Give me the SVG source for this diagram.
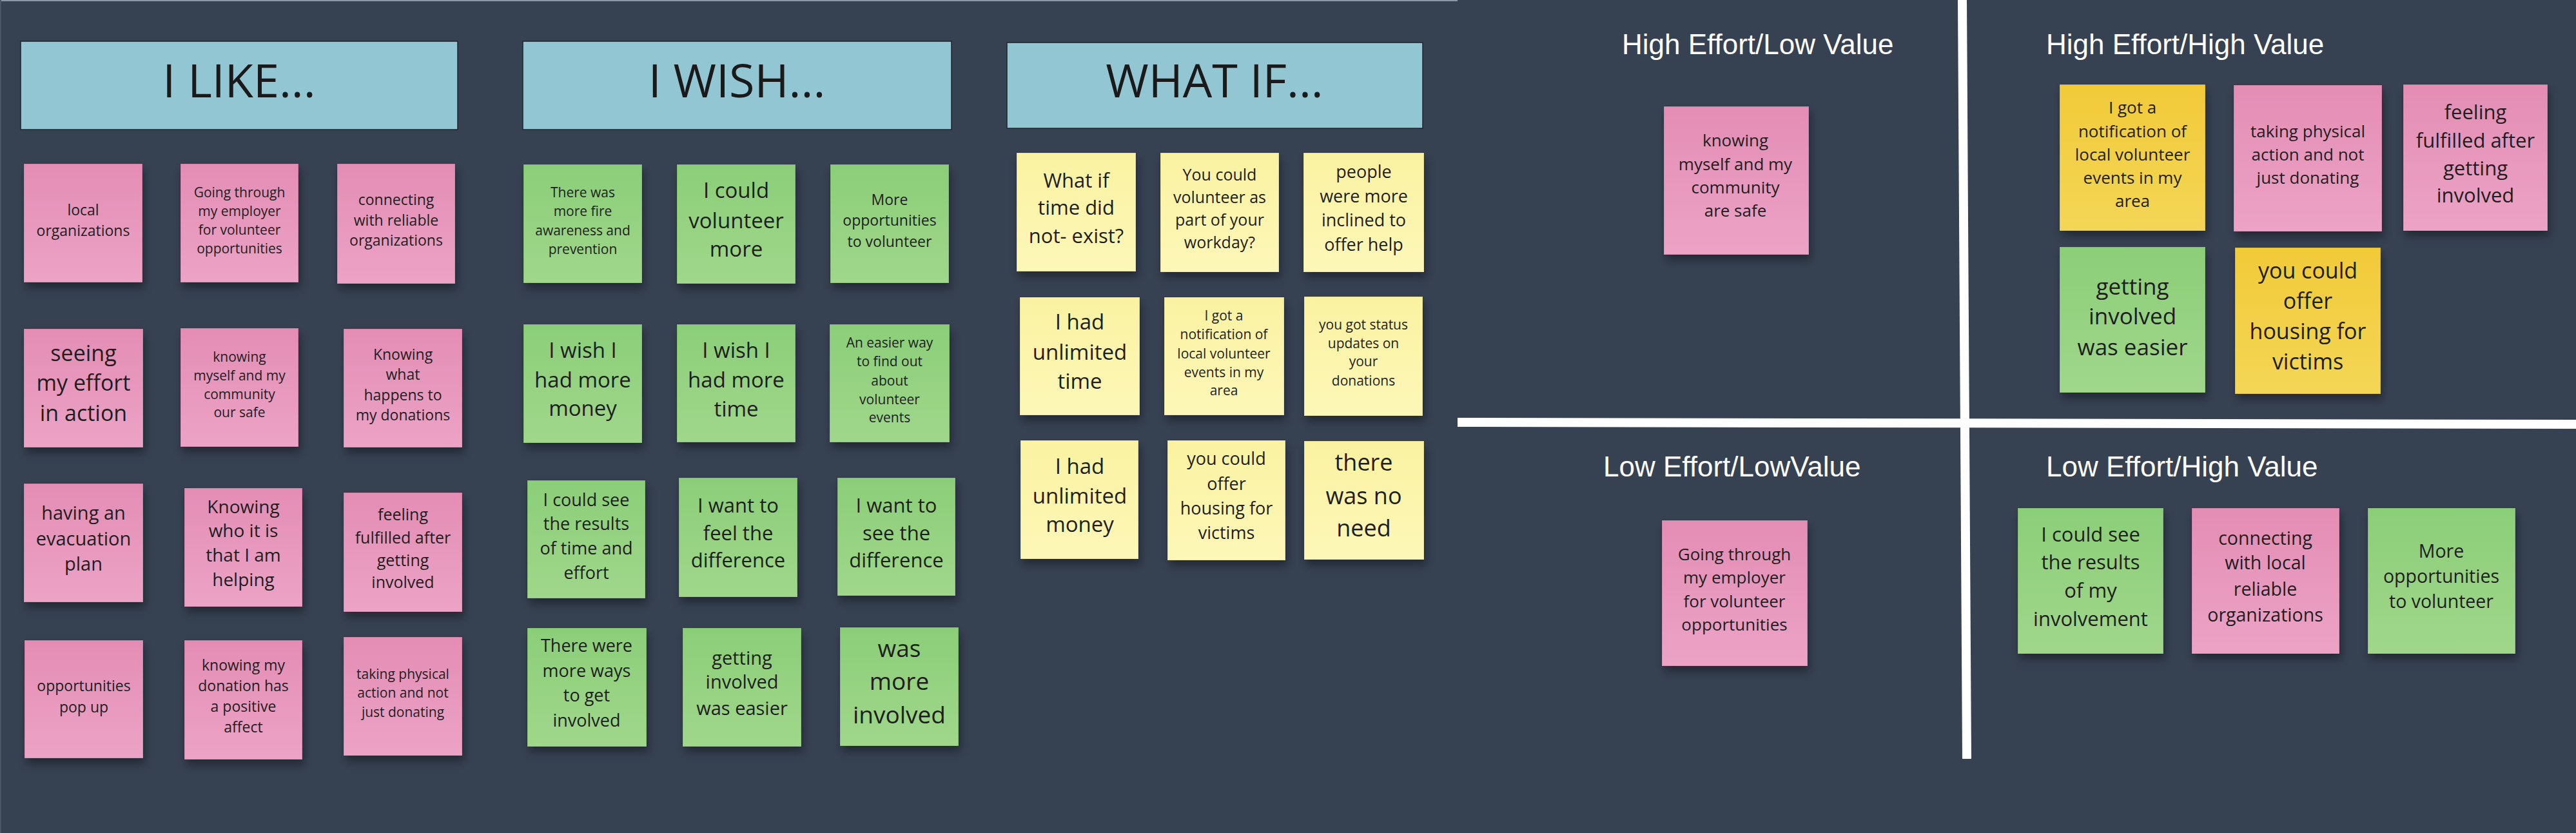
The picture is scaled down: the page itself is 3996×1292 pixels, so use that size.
<svg xmlns="http://www.w3.org/2000/svg" width="3996" height="1292" viewBox="0 0 3996 1292">
<defs>
<linearGradient id="gPink" x1="0" y1="0" x2="0" y2="1"><stop offset="0" stop-color="#e48db4"/><stop offset="1" stop-color="#eca3c5"/></linearGradient>
<linearGradient id="gGreen" x1="0" y1="0" x2="0" y2="1"><stop offset="0" stop-color="#8bce78"/><stop offset="1" stop-color="#a0d78b"/></linearGradient>
<linearGradient id="gYellow" x1="0" y1="0" x2="0" y2="1"><stop offset="0" stop-color="#faf2a1"/><stop offset="1" stop-color="#fdf7b8"/></linearGradient>
<linearGradient id="gOrange" x1="0" y1="0" x2="0" y2="1"><stop offset="0" stop-color="#f1ca38"/><stop offset="1" stop-color="#f4d656"/></linearGradient>
<filter id="shadow" x="-20%" y="-20%" width="140%" height="150%"><feDropShadow dx="3" dy="9" stdDeviation="7" flood-color="#000" flood-opacity="0.35"/></filter>
</defs>
<style>
.bg{fill:#364152}
.note{filter:url(#shadow);stroke:#000;stroke-opacity:0.15;stroke-width:1.2}
.pink{fill:url(#gPink)}
.green{fill:url(#gGreen)}
.yellow{fill:url(#gYellow)}
.orange{fill:url(#gOrange)}
.t{font-family:"Open Sans","Liberation Sans",sans-serif;fill:#1e1e1e;text-anchor:middle}
.hdrbox{fill:#93c6d3;stroke:#1c252e;stroke-width:1.5}
.hdr{font-family:"Open Sans","Liberation Sans",sans-serif;fill:#1a1a1a;font-size:72px;text-anchor:middle}
.q{font-family:"Liberation Sans",Arial,sans-serif;fill:#ffffff;font-size:44px}
.div{stroke:#ffffff;stroke-width:14;fill:none}
</style>
<rect class="bg" x="0" y="0" width="3996" height="1292"/>
<rect x="0" y="0" width="2261" height="2" fill="#8d96a5"/>
<rect x="0" y="0" width="2" height="1292" fill="#4a5566"/>

<g id="header-like"><rect class="hdrbox" x="32" y="64" width="678" height="137"/><text class="hdr" x="371" y="151">I LIKE...</text></g>
<g id="header-wish"><rect class="hdrbox" x="811" y="64" width="665" height="137"/><text class="hdr" x="1143" y="151">I WISH...</text></g>
<g id="header-whatif"><rect class="hdrbox" x="1562" y="66" width="645" height="133"/><text class="hdr" x="1884" y="151">WHAT IF...</text></g>

<g id="like-1"><rect class="note pink" x="37" y="254" width="184" height="184"/><text class="t" font-size="23"><tspan x="129" y="334">local</tspan><tspan x="129" y="366">organizations</tspan></text></g>
<g id="like-2"><rect class="note pink" x="280" y="254" width="183" height="184"/><text class="t" font-size="21"><tspan x="371.5" y="306">Going through</tspan><tspan x="371.5" y="335">my employer</tspan><tspan x="371.5" y="364">for volunteer</tspan><tspan x="371.5" y="393">opportunities</tspan></text></g>
<g id="like-3"><rect class="note pink" x="523" y="254" width="183" height="186"/><text class="t" font-size="23"><tspan x="614.5" y="318">connecting</tspan><tspan x="614.5" y="350">with reliable</tspan><tspan x="614.5" y="381">organizations</tspan></text></g>
<g id="like-4"><rect class="note pink" x="37" y="510" width="185" height="184"/><text class="t" font-size="34"><tspan x="129.5" y="560">seeing</tspan><tspan x="129.5" y="606">my effort</tspan><tspan x="129.5" y="653">in action</tspan></text></g>
<g id="like-5"><rect class="note pink" x="280" y="509" width="183" height="184"/><text class="t" font-size="21"><tspan x="371.5" y="560.5">knowing</tspan><tspan x="371.5" y="590">myself and my</tspan><tspan x="371.5" y="619">community</tspan><tspan x="371.5" y="647">our safe</tspan></text></g>
<g id="like-6"><rect class="note pink" x="533" y="510" width="184" height="184"/><text class="t" font-size="23"><tspan x="625" y="558">Knowing</tspan><tspan x="625" y="589">what</tspan><tspan x="625" y="621">happens to</tspan><tspan x="625" y="652">my donations</tspan></text></g>
<g id="like-7"><rect class="note pink" x="37" y="750" width="185" height="184"/><text class="t" font-size="29"><tspan x="129.5" y="806">having an</tspan><tspan x="129.5" y="846">evacuation</tspan><tspan x="129.5" y="885">plan</tspan></text></g>
<g id="like-8"><rect class="note pink" x="286" y="757" width="183" height="184"/><text class="t" font-size="28"><tspan x="377.5" y="796">Knowing</tspan><tspan x="377.5" y="833">who it is</tspan><tspan x="377.5" y="871">that I am</tspan><tspan x="377.5" y="909">helping</tspan></text></g>
<g id="like-9"><rect class="note pink" x="533" y="764" width="184" height="185"/><text class="t" font-size="25"><tspan x="625" y="807">feeling</tspan><tspan x="625" y="842.5">fulfilled after</tspan><tspan x="625" y="878">getting</tspan><tspan x="625" y="912">involved</tspan></text></g>
<g id="like-10"><rect class="note pink" x="38" y="993" width="184" height="183"/><text class="t" font-size="23"><tspan x="130" y="1072">opportunities</tspan><tspan x="130" y="1105">pop up</tspan></text></g>
<g id="like-11"><rect class="note pink" x="286" y="993" width="183" height="185"/><text class="t" font-size="23"><tspan x="377.5" y="1040">knowing my</tspan><tspan x="377.5" y="1072">donation has</tspan><tspan x="377.5" y="1104">a positive</tspan><tspan x="377.5" y="1136">affect</tspan></text></g>
<g id="like-12"><rect class="note pink" x="533" y="988" width="184" height="184"/><text class="t" font-size="21"><tspan x="625" y="1053">taking physical</tspan><tspan x="625" y="1082">action and not</tspan><tspan x="625" y="1112">just donating</tspan></text></g>

<g id="wish-1"><rect class="note green" x="812" y="255" width="184" height="184"/><text class="t" font-size="21"><tspan x="904" y="306">There was</tspan><tspan x="904" y="335">more fire</tspan><tspan x="904" y="365">awareness and</tspan><tspan x="904" y="394">prevention</tspan></text></g>
<g id="wish-2"><rect class="note green" x="1050" y="255" width="184" height="185"/><text class="t" font-size="33"><tspan x="1142" y="307">I could</tspan><tspan x="1142" y="353.5">volunteer</tspan><tspan x="1142" y="398">more</tspan></text></g>
<g id="wish-3"><rect class="note green" x="1288" y="255" width="184" height="184"/><text class="t" font-size="23"><tspan x="1380" y="318">More</tspan><tspan x="1380" y="350">opportunities</tspan><tspan x="1380" y="383">to volunteer</tspan></text></g>
<g id="wish-4"><rect class="note green" x="812" y="503" width="184" height="184"/><text class="t" font-size="33"><tspan x="904" y="555">I wish I</tspan><tspan x="904" y="601">had more</tspan><tspan x="904" y="645">money</tspan></text></g>
<g id="wish-5"><rect class="note green" x="1050" y="503" width="184" height="183"/><text class="t" font-size="33"><tspan x="1142" y="555">I wish I</tspan><tspan x="1142" y="601">had more</tspan><tspan x="1142" y="646">time</tspan></text></g>
<g id="wish-6"><rect class="note green" x="1287" y="503" width="186" height="183"/><text class="t" font-size="21"><tspan x="1380" y="539">An easier way</tspan><tspan x="1380" y="568">to find out</tspan><tspan x="1380" y="598">about</tspan><tspan x="1380" y="627">volunteer</tspan><tspan x="1380" y="655">events</tspan></text></g>
<g id="wish-7"><rect class="note green" x="818" y="745" width="183" height="183"/><text class="t" font-size="27"><tspan x="909.5" y="785">I could see</tspan><tspan x="909.5" y="822">the results</tspan><tspan x="909.5" y="860">of time and</tspan><tspan x="909.5" y="898">effort</tspan></text></g>
<g id="wish-8"><rect class="note green" x="1053" y="741" width="184" height="185"/><text class="t" font-size="31"><tspan x="1145" y="795">I want to</tspan><tspan x="1145" y="837.5">feel the</tspan><tspan x="1145" y="880">difference</tspan></text></g>
<g id="wish-9"><rect class="note green" x="1299" y="741" width="183" height="183"/><text class="t" font-size="31"><tspan x="1390.5" y="795">I want to</tspan><tspan x="1390.5" y="837.5">see the</tspan><tspan x="1390.5" y="880">difference</tspan></text></g>
<g id="wish-10"><rect class="note green" x="818" y="974" width="185" height="184"/><text class="t" font-size="27"><tspan x="910" y="1011">There were</tspan><tspan x="910" y="1050">more ways</tspan><tspan x="910" y="1088">to get</tspan><tspan x="910" y="1126.5">involved</tspan></text></g>
<g id="wish-11"><rect class="note green" x="1059" y="974" width="184" height="184"/><text class="t" font-size="29"><tspan x="1151" y="1031">getting</tspan><tspan x="1151" y="1068">involved</tspan><tspan x="1151" y="1109">was easier</tspan></text></g>
<g id="wish-12"><rect class="note green" x="1303" y="973" width="184" height="184"/><text class="t" font-size="37"><tspan x="1395" y="1019">was</tspan><tspan x="1395" y="1070">more</tspan><tspan x="1395" y="1122">involved</tspan></text></g>

<g id="whatif-1"><rect class="note yellow" x="1577" y="237" width="185" height="184"/><text class="t" font-size="31"><tspan x="1669.5" y="290.5">What if</tspan><tspan x="1669.5" y="333">time did</tspan><tspan x="1669.5" y="377">not- exist?</tspan></text></g>
<g id="whatif-2"><rect class="note yellow" x="1800" y="237" width="184" height="185"/><text class="t" font-size="25"><tspan x="1892" y="280">You could</tspan><tspan x="1892" y="315">volunteer as</tspan><tspan x="1892" y="350">part of your</tspan><tspan x="1892" y="385">workday?</tspan></text></g>
<g id="whatif-3"><rect class="note yellow" x="2022" y="237" width="187" height="185"/><text class="t" font-size="27"><tspan x="2115.5" y="276">people</tspan><tspan x="2115.5" y="313.5">were more</tspan><tspan x="2115.5" y="351">inclined to</tspan><tspan x="2115.5" y="389">offer help</tspan></text></g>
<g id="whatif-4"><rect class="note yellow" x="1582" y="461" width="186" height="183"/><text class="t" font-size="33"><tspan x="1675" y="510.5">I had</tspan><tspan x="1675" y="557.5">unlimited</tspan><tspan x="1675" y="603">time</tspan></text></g>
<g id="whatif-5"><rect class="note yellow" x="1806" y="461" width="186" height="183"/><text class="t" font-size="21"><tspan x="1898.5" y="497">I got a</tspan><tspan x="1898.5" y="526">notification of</tspan><tspan x="1898.5" y="555.5">local volunteer</tspan><tspan x="1898.5" y="585">events in my</tspan><tspan x="1898.5" y="612.5">area</tspan></text></g>
<g id="whatif-6"><rect class="note yellow" x="2023" y="460" width="184" height="185"/><text class="t" font-size="21"><tspan x="2115" y="510.5">you got status</tspan><tspan x="2115" y="540">updates on</tspan><tspan x="2115" y="568">your</tspan><tspan x="2115" y="597.5">donations</tspan></text></g>
<g id="whatif-7"><rect class="note yellow" x="1583" y="683" width="183" height="184"/><text class="t" font-size="33"><tspan x="1675" y="735">I had</tspan><tspan x="1675" y="780.5">unlimited</tspan><tspan x="1675" y="825">money</tspan></text></g>
<g id="whatif-8"><rect class="note yellow" x="1811" y="683" width="183" height="186"/><text class="t" font-size="27"><tspan x="1902.5" y="721">you could</tspan><tspan x="1902.5" y="760">offer</tspan><tspan x="1902.5" y="798">housing for</tspan><tspan x="1902.5" y="835.5">victims</tspan></text></g>
<g id="whatif-9"><rect class="note yellow" x="2023" y="684" width="186" height="184"/><text class="t" font-size="36"><tspan x="2115.5" y="729.5">there</tspan><tspan x="2115.5" y="781.5">was no</tspan><tspan x="2115.5" y="832">need</tspan></text></g>

<g id="connectors">
<line class="div" x1="3044" y1="0" x2="3051" y2="1177"/>
<line class="div" x1="2261" y1="655" x2="3996" y2="658"/>
</g>

<g id="title-he-lv"><text class="q" x="2516" y="84">High Effort/Low Value</text></g>
<g id="title-he-hv"><text class="q" x="3174" y="84">High Effort/High Value</text></g>
<g id="title-le-lv"><text class="q" x="2487" y="738.5">Low Effort/LowValue</text></g>
<g id="title-le-hv"><text class="q" x="3174" y="738.5">Low Effort/High Value</text></g>

<g id="helv-1"><rect class="note pink" x="2581" y="165" width="225" height="230"/><text class="t" font-size="26"><tspan x="2692" y="227">knowing</tspan><tspan x="2692" y="264">myself and my</tspan><tspan x="2692" y="300">community</tspan><tspan x="2692" y="335.5">are safe</tspan></text></g>
<g id="lelv-1"><rect class="note pink" x="2578" y="807" width="226" height="226"/><text class="t" font-size="26"><tspan x="2690.5" y="869">Going through</tspan><tspan x="2690.5" y="905">my employer</tspan><tspan x="2690.5" y="941.5">for volunteer</tspan><tspan x="2690.5" y="977.5">opportunities</tspan></text></g>
<g id="hehv-1"><rect class="note orange" x="3195" y="131" width="226" height="227"/><text class="t" font-size="26"><tspan x="3308" y="176">I got a</tspan><tspan x="3308" y="212.5">notification of</tspan><tspan x="3308" y="248.5">local volunteer</tspan><tspan x="3308" y="285">events in my</tspan><tspan x="3308" y="321">area</tspan></text></g>
<g id="hehv-2"><rect class="note pink" x="3465" y="132" width="230" height="227"/><text class="t" font-size="26"><tspan x="3580" y="212.5">taking physical</tspan><tspan x="3580" y="248.5">action and not</tspan><tspan x="3580" y="285">just donating</tspan></text></g>
<g id="hehv-3"><rect class="note pink" x="3728" y="131" width="224" height="227"/><text class="t" font-size="31"><tspan x="3840" y="185">feeling</tspan><tspan x="3840" y="228.5">fulfilled after</tspan><tspan x="3840" y="271.5">getting</tspan><tspan x="3840" y="313.5">involved</tspan></text></g>
<g id="hehv-4"><rect class="note green" x="3195" y="383" width="226" height="226"/><text class="t" font-size="35"><tspan x="3308" y="456.5">getting</tspan><tspan x="3308" y="503">involved</tspan><tspan x="3308" y="551">was easier</tspan></text></g>
<g id="hehv-5"><rect class="note orange" x="3467" y="384" width="226" height="227"/><text class="t" font-size="34"><tspan x="3580" y="431.5">you could</tspan><tspan x="3580" y="478.5">offer</tspan><tspan x="3580" y="526">housing for</tspan><tspan x="3580" y="573">victims</tspan></text></g>
<g id="lehv-1"><rect class="note green" x="3130" y="788" width="226" height="226"/><text class="t" font-size="31"><tspan x="3243" y="839.5">I could see</tspan><tspan x="3243" y="883">the results</tspan><tspan x="3243" y="927">of my</tspan><tspan x="3243" y="970.5">involvement</tspan></text></g>
<g id="lehv-2"><rect class="note pink" x="3400" y="788" width="229" height="226"/><text class="t" font-size="28.5"><tspan x="3514" y="844.5">connecting</tspan><tspan x="3514" y="883">with local</tspan><tspan x="3514" y="923.5">reliable</tspan><tspan x="3514" y="963.5">organizations</tspan></text></g>
<g id="lehv-3"><rect class="note green" x="3673" y="788" width="229" height="226"/><text class="t" font-size="28.5"><tspan x="3787" y="864.5">More</tspan><tspan x="3787" y="904">opportunities</tspan><tspan x="3787" y="942.5">to volunteer</tspan></text></g>
</svg>
